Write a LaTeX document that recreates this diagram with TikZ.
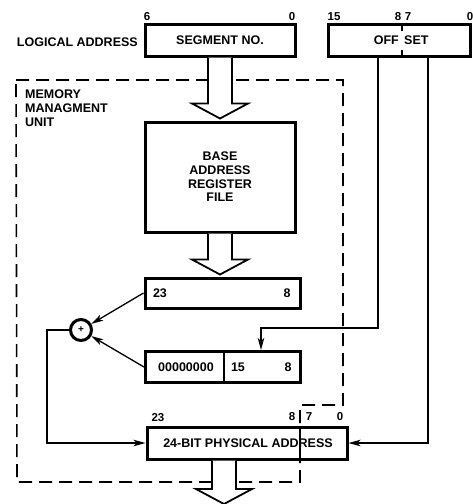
\documentclass[tikz,border=0pt]{standalone}
\usepackage{fontspec}
\setmainfont{Liberation Sans}
\usetikzlibrary{arrows.meta,calc}
\newcommand\lblfont{\fontsize{12.5}{13.6}\selectfont\bfseries}
\newcommand\bitfont{\fontsize{11.5}{12}\selectfont\bfseries}
\newcommand\hollowarr[2]{\draw[hollow] let \p1=(#1), \p2=(#2) in (\x1-12pt,\y1) -- (\x1-12pt,\y2+17pt) -- (\x1-28pt,\y2+17pt) -- (\x1,\y2+2pt) -- (\x1+28pt,\y2+17pt) -- (\x1+12pt,\y2+17pt) -- (\x1+12pt,\y1);}
\tikzset{
  box/.style={draw, line width=3pt, fill=white, inner sep=0pt},
  lbl/.style={font=\lblfont, inner sep=1pt},
  bit/.style={font=\bitfont, inner sep=1pt},
  arr/.style={line width=1.3pt, -{Stealth[length=12pt,width=6.5pt,inset=3pt]}},
  plain/.style={line width=1.3pt},
  hollow/.style={draw, line width=1.8pt, fill=white, line join=miter},
  mmu/.style={line width=1.6pt, dash pattern=on 13pt off 7pt},
}
\begin{document}
\begin{tikzpicture}[x=1pt,y=-1pt]
\useasboundingbox (0,0) rectangle (472,504);
\fill[white] (0,0) rectangle (472,504);

% MMU boundary
\draw[mmu] (16,80) -- (343,80) -- (343,405) -- (300,405) -- (300,482) -- (17,482) -- cycle;
\node[lbl, anchor=north west, align=left] (mmutxt) at (24,89) {MEMORY\\MANAGMENT\\UNIT};

% logical address
\node[lbl, anchor=east] (logtxt) at (139,42) {LOGICAL ADDRESS};
\node[box, minimum width=150pt, minimum height=32pt, font=\lblfont] (seg) at (220,40) {SEGMENT NO.};
\node[box, minimum width=142pt, minimum height=32pt] (off) at (399,40) {};
\coordinate (od) at (402,0);
\draw[plain] (off.north -| od) -- ++(0,8);
\draw[plain] (off.south -| od) -- ++(0,-8);
\node[lbl, anchor=east] (offa) at (400,40) {OFF};
\node[lbl, anchor=west] (offb) at (403,40) {SET};
\node[bit] (s6) at (147,17) {6};
\node[bit] (s0) at (292,17) {0};
\node[bit] (o15) at (334,17) {15};
\node[bit] (o8) at (398,17) {8};
\node[bit] (o7) at (408,17) {7};
\node[bit] (o0) at (470,17) {0};

% base address register file
\node[box, minimum width=150pt, minimum height=110pt, font=\lblfont, align=center] (bar) at (220,177) {BASE\\ADDRESS\\REGISTER\\FILE};

% register 23..8
\node[box, minimum width=155pt, minimum height=30pt] (reg1) at (222.5,293) {};
\node[lbl] (r23) at (160,293) {23};
\node[lbl] (r8) at (287,293) {8};

% register 00000000 15..8
\node[box, minimum width=155pt, minimum height=31pt] (reg2) at (223,367) {};
\coordinate (rd) at (224,0);
\draw[plain] (reg2.north -| rd) -- (reg2.south -| rd);
\node[lbl] (z) at (186,367) {00000000};
\node[lbl] (q15) at (238,367) {15};
\node[lbl] (q8) at (288,367) {8};

% adder
\node[circle, draw, line width=3pt, minimum size=21pt, inner sep=0pt, fill=white] (add) at (81,330) {};
\node[font=\fontsize{10}{10}\selectfont\bfseries, inner sep=0pt] (plus) at (add) {+};

% physical address
\node[box, minimum width=200pt, minimum height=32pt] (phys) at (247,443) {};
\coordinate (pd) at (300,0);
\draw[plain] (phys.north -| pd) -- (phys.south -| pd);
\node[lbl] (ptxt) at (248,443) {24-BIT PHYSICAL ADDRESS};
\node[bit] (p23) at (158,418) {23};
\node[bit] (p8) at (292,417) {8};
\node[bit] (p7) at (309,417) {7};
\node[bit] (p0) at (340,417) {0};

% hollow bus arrows
\hollowarr{seg.south}{bar.north}
\hollowarr{bar.south}{reg1.north}
\coordinate (outtip) at (224,506);
\hollowarr{phys.south -| outtip}{outtip}

% offset connectors
\coordinate (hi) at (378,328);
\coordinate (hiend) at (261,0);
\draw[arr] (off.south -| hi) -- (hi) -| (reg2.north -| hiend);
\coordinate (lo) at (428,0);
\draw[arr] (off.south -| lo) |- (phys.east);

% adder connectors
\draw[arr] (reg1.west) -- (add);
\draw[arr] (reg2.west) -- (add);
\coordinate (lx) at (47,0);
\draw[arr] (add.west) -| (lx |- phys.west) -- (phys.west);
\end{tikzpicture}
\end{document}
